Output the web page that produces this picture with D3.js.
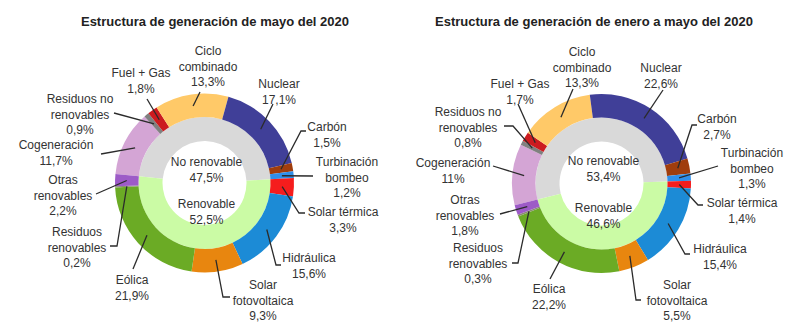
<!DOCTYPE html>
<html>
<head>
<meta charset="utf-8">
<script src="https://cdn.jsdelivr.net/npm/d3@7"></script>
<style>
  body { margin: 0; background: #fff; }
  svg { display: block; }
  text { font-family: "Liberation Sans", Arial, sans-serif; }
</style>
</head>
<body>
<svg id="chart" width="800" height="332"></svg>
<script>
// categories of the outer ring, in drawing order (clockwise)
var categories = ["Cogeneración", "Residuos no renovables", "Fuel + Gas", "Ciclo combinado",
  "Nuclear", "Carbón", "Turbinación bombeo", "Solar térmica", "Hidráulica",
  "Solar fotovoltaica", "Eólica", "Residuos renovables", "Otras renovables"];

// % share, mayo 2020
var mayoValues = [11.7, 0.9, 1.8, 13.3, 17.1, 1.5, 1.2, 3.3, 15.6, 9.3, 21.9, 0.2, 2.2];
// % share, enero a mayo 2020
var eneroMayoValues = [11, 0.8, 1.7, 13.3, 22.6, 2.7, 1.3, 1.4, 15.4, 5.5, 22.2, 0.3, 1.8];

// inner ring
var groups = ["No renovable", "Renovable"];
var mayoGroups = [47.5, 52.5];
var eneroMayoGroups = [53.4, 46.6];

var titles = ["Estructura de generación de mayo del 2020",
  "Estructura de generación de enero a mayo del 2020"];

// styling
var catColors = ["#d4a5d5", "#808080", "#cc1b1f", "#ffc968", "#403f98", "#a03d0d",
  "#2f8fea", "#f51d1d", "#1c8bd6", "#e8860f", "#6bab25", "#8a8f70", "#9d5bc7"];
var groupColors = ["#d9d9d9", "#cbfba5"];

// label text broken in lines
var catLines = [["Cogeneración"], ["Residuos no", "renovables"], ["Fuel + Gas"], ["Ciclo", "combinado"],
  ["Nuclear"], ["Carbón"], ["Turbinación", "bombeo"], ["Solar térmica"], ["Hidráulica"],
  ["Solar", "fotovoltaica"], ["Eólica"], ["Residuos", "renovables"], ["Otras", "renovables"]];

// label placement: [text x, first baseline, leader start x, y, elbow x (or null)]
var leftLabels = [
  [56, 149, 101, 154, null],
  [80, 103, 114, 113, null],
  [141, 77, 147, 99, null],
  [208, 55, 200, 92, null],
  [279, 88, 273, 104, null],
  [327, 131, 306, 131, 301],
  [347, 166, 313, 176, null],
  [343, 216, 305, 213, 299],
  [309, 262, 281, 265, 276],
  [263, 289, 230, 297, 223],
  [132, 284, 133, 269, null],
  [77, 236, 110, 246, 117],
  [63, 184, 96, 194, null]
];
var rightLabels = [
  [453, 167, 493, 166, null],
  [468, 116, 504, 126, 513],
  [520, 88, 518, 104, null],
  [582, 56, 573, 89, null],
  [661, 72, 663, 90, null],
  [717, 123, 697, 125, 692],
  [752, 157, 718, 166, null],
  [742, 207, 703, 205, 698],
  [720, 253, 690, 254, 685],
  [677, 289, 641, 300, 636],
  [549, 293, 550, 279, null],
  [478, 252, 512, 263, 518],
  [465, 204, 500, 214, null]
];

var charts = [
  {title: titles[0], titleX: 215, values: mayoValues, groupValues: mayoGroups,
   cx: 204.5, cy: 183, start: -84.2, labels: leftLabels, innerY: [166, 208]},
  {title: titles[1], titleX: 594, values: eneroMayoValues, groupValues: eneroMayoGroups,
   cx: 601.5, cy: 183.5, start: -104, labels: rightLabels, innerY: [165, 212]}
];

var rHole = 42, rMid = 66, rOuter = 89.5, lineH = 15.5;

var fmt = function(v) { return String(v).replace(".", ",") + "%"; };

var svg = d3.select("#chart");

charts.forEach(function(c) {
  var a0 = c.start * Math.PI / 180;
  var pie = d3.pie().sort(null).value(function(d) { return d; })
    .startAngle(a0).endAngle(a0 + 2 * Math.PI);

  var outerArc = d3.arc().innerRadius(rMid).outerRadius(rOuter);
  var innerArc = d3.arc().innerRadius(rHole).outerRadius(rMid);

  svg.append("text")
    .attr("x", c.titleX).attr("y", 26)
    .attr("text-anchor", "middle")
    .attr("font-size", 13).attr("font-weight", "bold")
    .attr("fill", "#222")
    .text(c.title);

  var g = svg.append("g").attr("transform", "translate(" + c.cx + "," + c.cy + ")");

  var outer = pie(c.values);
  var inner = pie(c.groupValues);

  g.selectAll(".inner").data(inner).join("path")
    .attr("class", "inner")
    .attr("d", innerArc)
    .attr("fill", function(d, i) { return groupColors[i]; });

  g.selectAll(".outer").data(outer).join("path")
    .attr("class", "outer")
    .attr("d", outerArc)
    .attr("fill", function(d, i) { return catColors[i]; });

  // inner labels
  groups.forEach(function(name, i) {
    var t = svg.append("text")
      .attr("text-anchor", "middle")
      .attr("font-size", 12).attr("fill", "#333");
    t.append("tspan").attr("x", c.cx + 2).attr("y", c.innerY[i]).text(name);
    t.append("tspan").attr("x", c.cx + 2).attr("y", c.innerY[i] + lineH).text(fmt(c.groupValues[i]));
  });

  // outer labels + leaders
  outer.forEach(function(d, i) {
    var L = c.labels[i];
    var cen = outerArc.centroid(d);
    var pts = [[L[2], L[3]]];
    if (L[4] != null) pts.push([L[4], L[3]]);
    pts.push([c.cx + cen[0], c.cy + cen[1]]);
    svg.append("path")
      .attr("d", d3.line()(pts))
      .attr("fill", "none")
      .attr("stroke", "#2b2b2b")
      .attr("stroke-width", 1.3);

    var t = svg.append("text")
      .attr("text-anchor", "middle")
      .attr("font-size", 12).attr("fill", "#333");
    var lines = catLines[i].concat([fmt(c.values[i])]);
    lines.forEach(function(s, k) {
      t.append("tspan").attr("x", L[0]).attr("y", L[1] + k * lineH).text(s);
    });
  });
});
</script>
</body>
</html>
